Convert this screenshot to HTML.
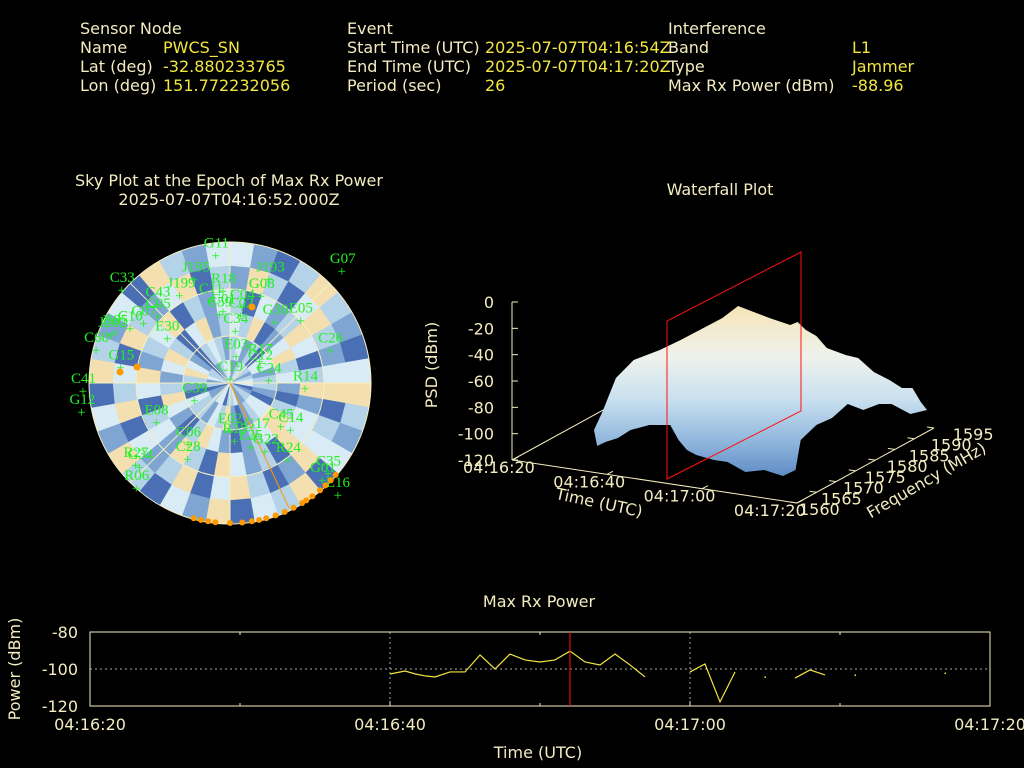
<!DOCTYPE html>
<html><head><meta charset="utf-8"><style>
html,body{margin:0;padding:0;background:#000;}
svg{display:block;font-family:"DejaVu Sans","Liberation Sans",sans-serif;}
.lab{fill:#f3ecc0;font-size:16px}
.val{fill:#f2e640;font-size:16px}
.t{fill:#f3ecc0;font-size:16px}
.sat{fill:#22f022;font-size:15px;font-family:"Liberation Serif","DejaVu Serif",serif}
</style></head><body>
<svg id="root" width="1024" height="768" viewBox="0 0 1024 768">
<rect width="1024" height="768" fill="#000"/>
<g>
<text class="lab" x="80" y="34">Sensor Node</text>
<text class="lab" x="80" y="53">Name</text><text class="val" x="163" y="53">PWCS_SN</text>
<text class="lab" x="80" y="72">Lat (deg)</text><text class="val" x="163" y="72">-32.880233765</text>
<text class="lab" x="80" y="91">Lon (deg)</text><text class="val" x="163" y="91">151.772232056</text>
<text class="lab" x="347" y="34">Event</text>
<text class="lab" x="347" y="53">Start Time (UTC)</text><text class="val" x="485" y="53">2025-07-07T04:16:54Z</text>
<text class="lab" x="347" y="72">End Time (UTC)</text><text class="val" x="485" y="72">2025-07-07T04:17:20Z</text>
<text class="lab" x="347" y="91">Period (sec)</text><text class="val" x="485" y="91">26</text>
<text class="lab" x="668" y="34">Interference</text>
<text class="lab" x="668" y="53">Band</text><text class="val" x="852" y="53">L1</text>
<text class="lab" x="668" y="72">Type</text><text class="val" x="852" y="72">Jammer</text>
<text class="lab" x="668" y="91">Max Rx Power (dBm)</text><text class="val" x="852" y="91">-88.96</text>
</g>
<text class="t" x="229" y="186" text-anchor="middle">Sky Plot at the Epoch of Max Rx Power</text>
<text class="t" x="229" y="205" text-anchor="middle">2025-07-07T04:16:52.000Z</text>
<text class="t" x="720" y="195" text-anchor="middle">Waterfall Plot</text>
<text class="t" x="539" y="607" text-anchor="middle">Max Rx Power</text>
<g id="sky"></g>
<g id="wf">
<defs><linearGradient id="sg" x1="0" y1="0" x2="0" y2="1">
<stop offset="0" stop-color="#f6e4b8"/><stop offset="0.3" stop-color="#eef2ec"/><stop offset="0.55" stop-color="#c9e0ef"/><stop offset="0.8" stop-color="#8fb6dc"/><stop offset="1" stop-color="#5f8cc6"/></linearGradient></defs>
<line x1="512" y1="460" x2="649" y2="385" stroke="#f3ecc0"/>
<polygon fill="url(#sg)" transform="translate(594,0) scale(1.044,1) translate(-577,0)" points="577,430 585,412 598,378 615,360 640,350 660,340 700,318 715,306 730,312 745,318 765,325 772,322 780,330 790,336 800,348 818,355 830,358 845,372 860,380 872,388 882,388 890,402 896,410 880,414 862,404 850,404 835,410 820,404 805,418 790,425 775,440 770,470 758,476 740,470 722,472 705,462 692,460 675,455 666,450 658,440 650,425 630,425 612,430 600,438 588,442 580,446"/>
<line x1="512" y1="302" x2="512" y2="460" stroke="#f3ecc0"/>
<line x1="512" y1="460" x2="797" y2="503" stroke="#f3ecc0"/>
<line x1="797" y1="503" x2="934" y2="428" stroke="#f3ecc0"/>
<polygon points="667,479 801,411 801,252 667,321" fill="none" stroke="#ff1010"/>
<text x="437" y="365" transform="rotate(-90 437 365)" class="t" text-anchor="middle">PSD (dBm)</text>
<text x="598" y="508" transform="rotate(12 598 508)" class="t" text-anchor="middle">Time (UTC)</text>
<text x="929" y="485" transform="rotate(-30 929 485)" class="t" text-anchor="middle">Frequency (MHz)</text>
</g>
<g id="mp"></g>
</svg>
<script>
const NS="http://www.w3.org/2000/svg";
function mk(p,tag,at,txt){const e=document.createElementNS(NS,tag);for(const k in at)e.setAttribute(k,at[k]);if(txt!==undefined)e.textContent=txt;p.appendChild(e);return e;}
// ---- Max Rx Power data (seconds after 04:16:20, dBm) ----
const segTimes=[[20,21,21.7,22.4,23,24,25,26,27,28,29,30,31,32,33,34,35,36,37],[40,41,42,43],[45],[47,48,49],[51],[57]];
const segPower=[[-102.7,-101.1,-102.7,-103.8,-104.3,-101.6,-101.6,-92.4,-100,-91.9,-95.1,-96.2,-95.1,-90.3,-96.2,-97.8,-91.9,-97.8,-104.3],[-101.6,-97.3,-117.8,-101.6],[-104.3],[-104.9,-100.5,-103.2],[-103.2],[-102.2]];
const maxEpoch=32;
const yTicks=[-80,-100,-120];
const xTickLabels=["04:16:20","04:16:40","04:17:00","04:17:20"];
const xTickSecs=[0,20,40,60];
const mp=document.getElementById('mp');
const X0=90,X1=990,Y0=632,Y1=706;
const sx=t=>X0+(t/60)*(X1-X0);
const sy=v=>Y0+(-80-v)/40*(Y1-Y0);
yTicks.forEach(v=>{
 if(v===-100){const g=mk(mp,'line',{x1:X0,x2:X1,y1:sy(v),y2:sy(v),stroke:'#aaa','stroke-dasharray':'2,3'});}
 const t=mk(mp,'text',{x:78,y:sy(v)+6,'text-anchor':'end',class:'t'},String(v));
 
 
});
xTickSecs.forEach((s,i)=>{
 if(i>0&&i<3){const g=mk(mp,'line',{x1:sx(s),x2:sx(s),y1:Y0,y2:Y1,stroke:'#aaa','stroke-dasharray':'2,3'});}
 mk(mp,'line',{x1:sx(s),x2:sx(s),y1:Y1,y2:Y1-5,stroke:'#f3ecc0'});
 const t=mk(mp,'text',{x:sx(s),y:730,'text-anchor':'middle',class:'t'},xTickLabels[i]);
 
 
});
[10,30,50].forEach(s=>{mk(mp,'line',{x1:sx(s),x2:sx(s),y1:Y1,y2:Y1-3,stroke:'#f3ecc0'});mk(mp,'line',{x1:sx(s),x2:sx(s),y1:Y0,y2:Y0+3,stroke:'#f3ecc0'});});
const fr=mk(mp,'rect',{x:X0,y:Y0,width:X1-X0,height:Y1-Y0,fill:'none',stroke:'#f3ecc0'});


segTimes.forEach((ts,j)=>{
 if(ts.length===1){const d=mk(mp,'rect',{x:sx(ts[0])-0.5,y:sy(segPower[j][0])-0.5,width:1.5,height:1.5,fill:'#f2e640'});return;}
 const l=mk(mp,'polyline',{points:ts.map((t,i)=>sx(t)+','+sy(segPower[j][i])).join(' '),fill:'none',stroke:'#f2e640','stroke-width':1.2});
 
 
});
const ml=mk(mp,'line',{x1:sx(maxEpoch),x2:sx(maxEpoch),y1:Y0,y2:Y1,stroke:'#ff1010'});


const xt=mk(mp,'text',{x:538,y:758,'text-anchor':'middle',class:'t'},'Time (UTC)');


const yt=mk(mp,'text',{x:20,y:669,'text-anchor':'middle',class:'t',transform:'rotate(-90 20 669)'},'Power (dBm)');



// ---- Waterfall axes ----
const wf=document.getElementById('wf');
const zTicks=[0,-20,-40,-60,-80,-100,-120];
zTicks.forEach(v=>{const y=302+(-v)/120*158;
 mk(wf,'line',{x1:512,x2:518,y1:y,y2:y,stroke:'#f3ecc0'});
 const t=mk(wf,'text',{x:494,y:y+6,'text-anchor':'end',class:'t'},String(v));
 
 });
const tLabels=["04:16:20","04:16:40","04:17:00","04:17:20"];
tLabels.forEach((s,i)=>{const f=i/3;const x=512+f*285,y=460+f*43;
 mk(wf,'line',{x1:x,y1:y,x2:x+6,y2:y-3,stroke:'#f3ecc0'});
 const t=mk(wf,'text',{x:x-49-4.7*i,y:y+13,class:'t'},s);
 
 });
const fLabels=[1560,1565,1570,1575,1580,1585,1590,1595];
fLabels.forEach((s,i)=>{const f=i/7;const x=797+f*137,y=503-f*75;
 mk(wf,'line',{x1:x,y1:y,x2:x-7,y2:y-1,stroke:'#f3ecc0'});
 const t=mk(wf,'text',{x:x+2+2.4*i,y:y+12,class:'t'},String(s));
 
 });

// ---- Sky plot ----
const sky=document.getElementById('sky');
const CX=230,CY=383,R=141;
const pal=['#4a6fb5','#7fa6d3','#b4d2e8','#d9ebf4','#f3dfb0'];
const skyRings=[
"112322123301221132203321102132201233",
"231203312210332101423122301243102321",
"324013423102443210134201342134203412",
"203124302413340213402413203412340213",
"142034213402341024304213042304213402",
"310242103421304230413024130421304213"];
const nR=skyRings.length,nS=36;
skyRings.forEach((row,ri)=>{
 for(let s=0;s<nS;s++){
  const r0=R*ri/nR,r1=R*(ri+1)/nR,a0=(s/nS)*2*Math.PI,a1=((s+1)/nS)*2*Math.PI;
  const p=(r,a)=>(CX+r*Math.sin(a)).toFixed(1)+','+(CY-r*Math.cos(a)).toFixed(1);
  const c=mk(sky,'polygon',{points:[p(r0,a0),p(r1,a0),p(r1,a1),p(r0,a1)].join(' '),fill:pal[+row[s]],stroke:pal[+row[s]],'stroke-width':0.6});
  
  
 }});
[1,2,3].forEach(k=>mk(sky,'circle',{cx:CX,cy:CY,r:R*k/3,fill:'none',stroke:'#f6f0c0','stroke-width':1}));
[0,45,90,180,225,270,315].forEach(a=>{const rad=a*Math.PI/180;mk(sky,'line',{x1:CX,y1:CY,x2:CX+R*Math.sin(rad),y2:CY-R*Math.cos(rad),stroke:'#f6f0c0'});});
mk(sky,'line',{x1:CX,y1:CY,x2:289,y2:508,stroke:'#ff9900'});
const sats=["G11","J195","C43","J199","J193","G07","C33","R18","C11","G08","C01","C04","C59","C02","G30","E05","C10","C05","R05","C07","J202","C26","C34","C60","E30","E03","R17","C12","G15","C19","C24","R14","C41","C39","E08","G12","C06","G17","C45","C14","G22","E02","C28","R15","E25","R27","R24","G34","R06","G01","C35","E16"];
const satAz=[354,342,320,332,19,43,313,356,348,18,355,8,352,8,33,45,302,316,297,308,295,68,5,287,310,10,45,52,282,0,75,88,270,255,247,262,218,150,125,123,150,180,212,175,160,232,140,230,224,134,130,134];
const satR=[136,117,113,108,118,164,148,100,92,100,80,85,77,76,82,100,118,104,129,110,132,108,60,140,82,35,42,38,112,12,40,75,147,37,80,150,68,52,62,72,70,40,80,50,60,120,90,118,135,128,128,150];
sats.forEach((n,i)=>{const a=satAz[i]*Math.PI/180;const x=CX+satR[i]*Math.sin(a),y=CY-satR[i]*Math.cos(a);
 const pm=mk(sky,'text',{x:x,y:y+13,class:'sat','text-anchor':'middle'},'+');
 
 
 const t=mk(sky,'text',{x:x-12,y:y,class:'sat'},n);
 
 });
const obsAz=[195,192,189,186,180,175,171,168,165,161,157,153,149,147,144,140,137,134,131];
obsAz.forEach(az=>{const a=az*Math.PI/180;const d=mk(sky,'circle',{cx:CX+(R-1)*Math.sin(a),cy:CY-(R-1)*Math.cos(a),r:3,fill:'#ff9900'});
 
 });
[[120,372],[137,367],[252,307]].forEach(p=>mk(sky,'circle',{cx:p[0],cy:p[1],r:3.5,fill:'#ff9900'}));
</script>
</body></html>
